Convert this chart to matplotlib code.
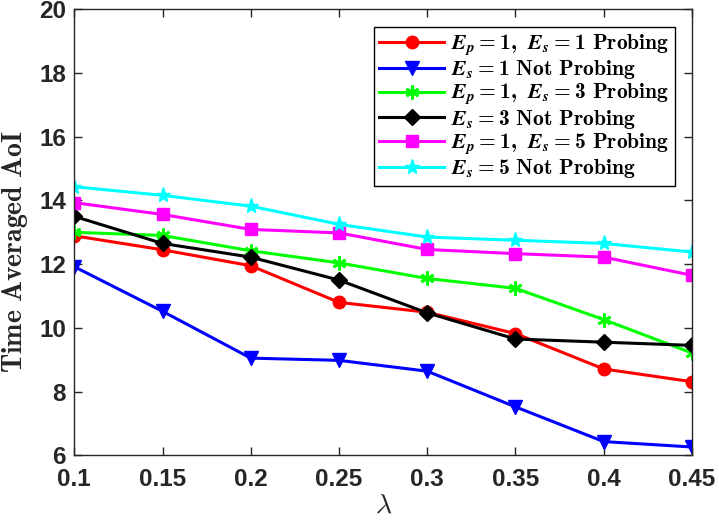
import matplotlib
matplotlib.use("Agg")
import matplotlib.pyplot as plt
from matplotlib.font_manager import FontProperties


# NOTE : data
lam=[0.1, 0.15, 0.2, 0.25, 0.3, 0.35, 0.4, 0.45]

probe_1=[12.89, 12.45, 11.95, 10.80, 10.49, 9.82, 8.71, 8.31]
noprobe_1=[11.92, 10.52, 9.05, 8.98, 8.64, 7.52, 6.43, 6.26]
probe_3=[13.00, 12.90, 12.42, 12.04, 11.55, 11.24, 10.26, 9.21]
noprobe_3=[13.50, 12.65, 12.22, 11.50, 10.47, 9.65, 9.55, 9.45]
probe_5=[13.93, 13.56, 13.09, 12.98, 12.46, 12.33, 12.22, 11.65]
noprobe_5=[14.43, 14.16, 13.82, 13.25, 12.85, 12.75, 12.65, 12.38]

labels=[
    r"$\mathbfit{E_p} = \mathbf{1,}\ \mathbfit{E_s} = \mathbf{1\ Probing}$",
    r"$\mathbfit{E_s} = \mathbf{1\ Not\ Probing}$",
    r"$\mathbfit{E_p} = \mathbf{1,}\ \mathbfit{E_s} = \mathbf{3\ Probing}$",
    r"$\mathbfit{E_s} = \mathbf{3\ Not\ Probing}$",
    r"$\mathbfit{E_p} = \mathbf{1,}\ \mathbfit{E_s} = \mathbf{5\ Probing}$",
    r"$\mathbfit{E_s} = \mathbf{5\ Not\ Probing}$",
]
x_ticks=[0.1, 0.15, 0.2, 0.25, 0.3, 0.35, 0.4, 0.45]
x_tick_labels=["0.1", "0.15", "0.2", "0.25", "0.3", "0.35", "0.4", "0.45"]
y_ticks=[6, 8, 10, 12, 14, 16, 18, 20]

series=[probe_1, noprobe_1, probe_3, noprobe_3, probe_5, noprobe_5]
colors=["#ff0000", "#0000ff", "#00ff00", "#000000", "#ff00ff", "#00ffff"]
markers=["o", "v", (6, 2, 0), "D", "s", "*"]
sizes=[9, 10, 10, 8, 8, 11]
edge_w=[1, 1, 2, 1, 1, 1]

axis_col="#262626"

# NOTE : legend math uses Computer Modern bold text with STIX bold italic letters
plt.rcParams["mathtext.bf"]="cmb10"
plt.rcParams["mathtext.bfit"]="STIXGeneral:italic:bold"
plt.rcParams["mathtext.rm"]="cmb10"

fig=plt.figure(figsize=(7.19, 5.22), dpi=100)
ax=fig.add_axes([0.1033, 0.1278, 0.8591, 0.8544])

for y, c, m, s, ew, lab in zip(series, colors, markers, sizes, edge_w, labels):
    ax.plot(lam, y, color=c, marker=m, markersize=s, linewidth=2.2,
            markeredgecolor=c, markerfacecolor=c, markeredgewidth=ew, label=lab)

ax.set_xlim(0.1, 0.45)
ax.set_ylim(6, 20)
ax.set_xticks(x_ticks)
ax.set_xticklabels(x_tick_labels)
ax.set_yticks(y_ticks)

for sp in ax.spines.values():
    sp.set_color(axis_col)
    sp.set_linewidth(1.0)

ax.tick_params(direction="in", length=6, width=1.0, colors=axis_col,
               top=True, right=True)
ax.tick_params(axis="x", pad=9)
ax.tick_params(axis="y", pad=6)
for t in ax.get_xticklabels()+ax.get_yticklabels():
    t.set_fontfamily("Liberation Sans")
    t.set_fontweight("bold")
    t.set_fontsize(17.5)
    t.set_color(axis_col)

ax.set_xlabel(r"$\lambda$", fontsize=20, math_fontfamily="cm", color=axis_col, labelpad=0)
ax.set_ylabel(r"$\mathbf{Time\ Averaged\ AoI}$", fontsize=20, math_fontfamily="cm",
              color=axis_col)
ax.yaxis.set_label_coords(-0.072, 0.456)

leg_font=FontProperties(size=15.5, math_fontfamily="custom")
leg=ax.legend(loc="upper right", bbox_to_anchor=(0.9725, 0.9603), prop=leg_font,
              handlelength=3.0, handletextpad=0.35, borderpad=0.25,
              labelspacing=0.03, fancybox=False, framealpha=1.0,
              edgecolor="#000000", borderaxespad=0.0)
leg.get_frame().set_linewidth(1.0)

fig.savefig("out.png", dpi=100)
